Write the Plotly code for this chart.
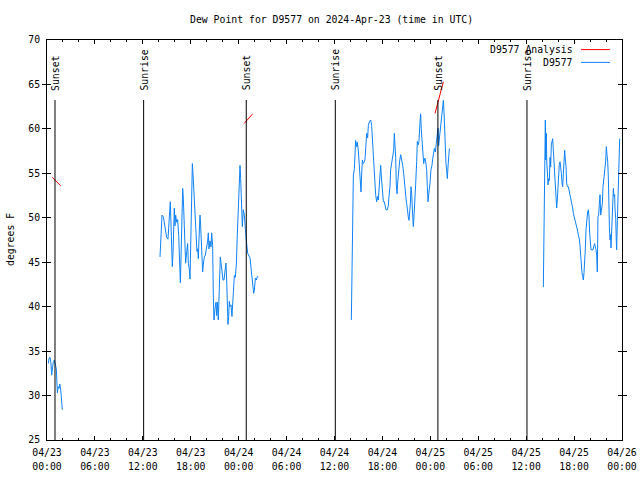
import pandas as pd
import plotly.graph_objects as go

BASE = pd.Timestamp("2024-04-23 00:00")

# ---- D9577 observed dew point (hours since 04/23 00:00 UTC, deg F) ----
seg1_hours = [0.17, 0.25, 0.38, 0.50, 0.58, 0.66, 0.79, 0.92, 1.04, 1.17, 1.30, 1.40, 1.50, 1.60, 1.72, 1.92]
seg1_vals = [33.6, 34.2, 34.3, 33.6, 32.3, 32.9, 33.8, 34.0, 33.6, 33.0, 30.3, 31.0, 30.8, 31.3, 30.6, 28.4]

seg2_hours = [14.15, 14.23, 14.32, 14.40, 14.57, 14.69, 14.82, 14.98, 15.15, 15.24,
              15.32, 15.44, 15.53, 15.61, 15.69, 15.78, 15.86, 15.94, 16.03, 16.11,
              16.24, 16.36, 16.49, 16.57, 16.70, 16.78, 16.86, 16.95, 16.99, 17.07,
              17.15, 17.28, 17.36, 17.49, 17.61, 17.70, 17.82, 17.91, 17.99, 18.07,
              18.16, 18.20, 18.28, 18.37, 18.45, 18.53, 18.66, 18.78, 18.87, 18.95,
              19.03, 19.16, 19.24, 19.32, 19.41, 19.49, 19.58, 19.70, 19.83, 19.99,
              20.12, 20.20, 20.28, 20.41, 20.54, 20.62, 20.74, 20.83, 20.91, 21.04,
              21.16, 21.24, 21.33, 21.45, 21.54, 21.62, 21.70, 21.79, 21.91, 22.04,
              22.16, 22.29, 22.41, 22.50, 22.58, 22.66, 22.75, 22.83, 22.91, 23.04,
              23.16, 23.25, 23.33, 23.46, 23.58, 23.71, 23.83, 23.96, 24.08, 24.17,
              24.25, 24.38, 24.46, 24.58, 24.71, 24.83, 24.92, 25.00, 25.13, 25.25,
              25.42, 25.59, 25.75, 25.88, 25.96, 26.09, 26.21, 26.34, 26.46]
seg2_vals = [45.6, 46.7, 49.0, 50.3, 50.1, 49.3, 48.5, 47.8, 47.6, 48.5,
             50.1, 51.8, 49.9, 46.4, 44.5, 46.0, 49.1, 51.1, 49.1, 50.3,
             49.5, 49.8, 48.0, 45.2, 42.7, 45.5, 48.9, 50.9, 53.3, 52.2,
             50.1, 46.4, 44.9, 46.2, 47.1, 44.9, 44.2, 43.1, 47.1, 52.0,
             52.9, 56.1, 55.0, 53.1, 52.0, 51.3, 48.3, 46.2, 46.5, 45.4,
             47.6, 50.3, 49.1, 46.9, 45.4, 43.9, 44.8, 45.6, 45.8, 46.5,
             47.4, 48.3, 46.5, 47.4, 46.7, 48.3, 46.9, 41.0, 38.5, 39.8,
             40.5, 39.0, 40.5, 38.5, 40.5, 43.8, 45.6, 44.9, 43.9, 43.0,
             43.0, 44.4, 44.9, 43.0, 39.6, 38.0, 38.9, 40.6, 40.0, 40.2,
             38.9, 40.5, 42.2, 43.5, 43.3, 44.8, 48.1, 52.0, 54.4, 55.9,
             54.4, 51.3, 49.0, 50.9, 50.3, 48.8, 47.5, 47.1, 46.0, 45.8,
             45.5, 44.0, 42.2, 41.5, 41.8, 43.2, 43.0, 43.4, 43.3]

seg3_hours = [38.11, 38.15, 38.23, 38.36, 38.48, 38.65, 38.78, 38.86, 38.99, 39.07,
              39.15, 39.24, 39.32, 39.40, 39.49, 39.61, 39.74, 39.82, 39.90, 40.03,
              40.15, 40.24, 40.36, 40.53, 40.65, 40.74, 40.86, 40.95, 41.07, 41.15,
              41.28, 41.40, 41.49, 41.61, 41.70, 41.78, 41.87, 41.95, 42.03, 42.12,
              42.24, 42.32, 42.45, 42.62, 42.74, 42.82, 42.95, 43.03, 43.16, 43.28,
              43.41, 43.49, 43.58, 43.66, 43.74, 43.83, 43.91, 44.04, 44.16, 44.29,
              44.41, 44.54, 44.66, 44.74, 44.83, 44.95, 45.04, 45.12, 45.24, 45.33,
              45.41, 45.50, 45.58, 45.66, 45.75, 45.87, 45.95, 46.04, 46.16, 46.29,
              46.37, 46.50, 46.58, 46.71, 46.79, 46.87, 47.00, 47.08, 47.17, 47.25,
              47.33, 47.42, 47.54, 47.62, 47.71, 47.79, 47.87, 47.96, 48.08, 48.21,
              48.29, 48.42, 48.50, 48.63, 48.71, 48.79, 48.88, 48.96, 49.04, 49.13,
              49.21, 49.29, 49.42, 49.50, 49.63, 49.71, 49.79, 49.88, 49.96, 50.04,
              50.13, 50.21, 50.29, 50.38]
seg3_vals = [38.5, 42.4, 50.5, 54.8, 55.4, 58.7, 58.0, 58.5, 57.5, 56.5,
             54.5, 53.9, 52.9, 54.8, 56.5, 56.1, 56.3, 56.6, 57.6, 59.5,
             59.0, 60.4, 60.8, 61.0, 60.4, 58.7, 58.0, 56.1, 53.9, 52.6,
             51.8, 52.4, 52.0, 53.7, 55.0, 55.9, 54.6, 53.5, 52.4, 51.8,
             51.8, 51.4, 50.9, 50.9, 51.4, 52.4, 53.5, 55.4, 56.1, 57.1,
             57.6, 59.5, 58.5, 56.8, 53.7, 52.7, 53.9, 55.7, 56.4, 57.1,
             56.6, 55.9, 55.0, 53.9, 52.6, 52.2, 51.6, 50.5, 50.1, 49.7,
             50.5, 51.6, 53.5, 52.8, 51.0, 49.0, 50.1, 52.4, 53.7, 56.3,
             58.6, 58.2, 58.6, 60.8, 61.7, 59.9, 58.0, 56.9, 56.1, 56.5,
             56.7, 56.3, 55.4, 53.5, 51.8, 52.6, 53.0, 53.9, 55.4, 55.9,
             56.6, 57.6, 57.8, 57.4, 58.3, 58.9, 59.5, 60.1, 58.1, 59.0,
             59.1, 60.1, 61.4, 62.3, 63.2, 62.0, 59.1, 57.7, 56.1, 55.4,
             54.4, 55.7, 57.1, 57.8]

seg4_hours = [62.15, 62.19, 62.28, 62.36, 62.40, 62.44, 62.53, 62.57, 62.65, 62.74,
              62.82, 62.90, 62.99, 63.07, 63.15, 63.24, 63.32, 63.40, 63.49, 63.57,
              63.65, 63.74, 63.82, 63.90, 63.99, 64.07, 64.15, 64.24, 64.32, 64.41,
              64.49, 64.57, 64.66, 64.74, 64.82, 64.91, 64.99, 65.07, 65.16, 65.28,
              65.41, 65.49, 65.62, 65.70, 65.82, 65.91, 66.03, 66.12, 66.24, 66.33,
              66.45, 66.53, 66.66, 66.74, 66.83, 66.91, 66.99, 67.08, 67.16, 67.24,
              67.33, 67.41, 67.49, 67.58, 67.70, 67.79, 67.87, 67.95, 68.04, 68.12,
              68.25, 68.37, 68.50, 68.58, 68.66, 68.75, 68.83, 68.87, 68.91, 68.99,
              69.08, 69.16, 69.25, 69.33, 69.46, 69.54, 69.62, 69.71, 69.79, 69.87,
              69.96, 70.04, 70.12, 70.21, 70.29, 70.33, 70.42, 70.50, 70.58, 70.62,
              70.71, 70.75, 70.83, 70.92, 71.00, 71.08, 71.12, 71.21, 71.29, 71.33,
              71.42, 71.50, 71.54, 71.63, 71.71]
seg4_vals = [42.2, 46.9, 56.3, 56.0, 61.0, 56.5, 59.5, 56.5, 54.6, 53.7,
             54.4, 54.2, 56.8, 55.7, 58.2, 58.7, 58.9, 57.6, 55.9, 54.6,
             52.8, 52.4, 51.1, 52.0, 53.5, 55.2, 56.0, 56.3, 55.9, 55.0,
             53.9, 53.5, 55.0, 56.3, 57.6, 56.5, 55.8, 53.9, 53.5, 53.5,
             53.0, 52.6, 52.0, 51.6, 51.1, 50.5, 50.1, 49.7, 49.3, 48.9,
             48.5, 48.1, 47.6, 46.9, 45.4, 44.5, 43.8, 43.4, 43.0, 43.8,
             44.9, 46.5, 48.6, 50.1, 50.7, 50.9, 50.1, 48.3, 47.1, 46.4,
             46.4, 46.4, 46.9, 47.1, 46.7, 46.4, 45.8, 44.9, 43.9, 50.1,
             50.3, 51.5, 52.6, 50.3, 50.9, 51.6, 53.5, 54.1, 55.0, 55.6,
             56.5, 58.0, 57.1, 56.3, 54.6, 52.0, 49.0, 47.5, 48.1, 46.6,
             48.7, 50.9, 52.4, 53.3, 52.4, 52.6, 51.1, 49.9, 47.3, 46.4,
             49.7, 53.1, 55.6, 58.7, 58.9]

# ---- D9577 Analysis (red) ----
analysis_hours = [0.66, 1.72, None, 24.67, 25.76, None, 48.59, 49.63]
analysis_vals = [54.55, 53.6, None, 60.6, 61.7, None, 61.75, 65.3]

# ---- Sunrise / sunset markers ----
event_hours = [1.0, 12.1, 24.95, 36.1, 48.95, 60.1]
event_labels = ["Sunset", "Sunrise", "Sunset", "Sunrise", "Sunset", "Sunrise"]
event_line_top = 63.25
event_text_bottom = 64.1

# ---- Axis ticks ----
tick_hours = [0, 6, 12, 18, 24, 30, 36, 42, 48, 54, 60, 66, 72]
tick_dates = ["04/23", "04/23", "04/23", "04/23", "04/24", "04/24", "04/24",
              "04/24", "04/25", "04/25", "04/25", "04/25", "04/26"]
tick_times = ["00:00", "06:00", "12:00", "18:00", "00:00", "06:00", "12:00",
              "18:00", "00:00", "06:00", "12:00", "18:00", "00:00"]
y_range = [25, 70]

BLUE = "#0f82f5"
RED = "#ff0000"
FONT = "DejaVu Sans Mono"
FS = 9.8


def to_time(hours):
    return [None if h is None else BASE + pd.Timedelta(hours=h) for h in hours]


obs_hours = seg1_hours + [None] + seg2_hours + [None] + seg3_hours + [None] + seg4_hours
obs_vals = seg1_vals + [None] + seg2_vals + [None] + seg3_vals + [None] + seg4_vals
x_range = [BASE, BASE + pd.Timedelta(hours=72)]

fig = go.Figure()
fig.add_trace(go.Scatter(x=to_time(obs_hours), y=obs_vals, mode="lines",
                         line=dict(color=BLUE, width=1), connectgaps=False,
                         name="D9577", showlegend=False))
fig.add_trace(go.Scatter(x=to_time(analysis_hours), y=analysis_vals, mode="lines",
                         line=dict(color=RED, width=1), connectgaps=False,
                         name="D9577 Analysis", showlegend=False))
# empty carrier so the second (time-of-day) label row is drawn
fig.add_trace(go.Scatter(x=x_range, y=[None, None], xaxis="x2", mode="lines",
                         showlegend=False, hoverinfo="skip"))

for h, lab in zip(event_hours, event_labels):
    t = BASE + pd.Timedelta(hours=h)
    fig.add_shape(type="line", xref="x", yref="y", x0=t, x1=t,
                  y0=y_range[0], y1=event_line_top,
                  line=dict(color="black", width=1))
    fig.add_annotation(x=t, y=event_text_bottom, xref="x", yref="y",
                       text=lab, textangle=-90, showarrow=False,
                       xanchor="center", yanchor="bottom", xshift=1,
                       font=dict(family=FONT, size=FS, color="black"))

# custom gnuplot-style key (text then line sample)
key_items = [("D9577 Analysis", RED, 0.976), ("D9577", BLUE, 0.944)]
for txt, col, yy in key_items:
    fig.add_annotation(x=0.9185, y=yy, xref="paper", yref="paper", text=txt,
                       showarrow=False, xanchor="right", yanchor="middle",
                       font=dict(family=FONT, size=FS, color="black"))
    fig.add_shape(type="line", xref="paper", yref="paper", x0=0.9287, x1=0.9791,
                  y0=yy, y1=yy, line=dict(color=col, width=1))

# title and y-axis title as positioned texts
fig.add_annotation(x=0.495, y=(440 - 19) / 400, xref="paper", yref="paper",
                   text="Dew Point for D9577 on 2024-Apr-23 (time in UTC)",
                   showarrow=False, xanchor="center", yanchor="middle",
                   font=dict(family=FONT, size=FS, color="black"))
fig.add_annotation(x=(10 - 47) / 575, y=0.5, xref="paper", yref="paper",
                   text="degrees F", textangle=-90, showarrow=False,
                   xanchor="center", yanchor="middle",
                   font=dict(family=FONT, size=FS, color="black"))

fig.update_layout(
    width=640, height=480,
    margin=dict(l=47, r=18, t=40, b=40, autoexpand=False),
    paper_bgcolor="white", plot_bgcolor="white",
    font=dict(family=FONT, size=FS, color="black"),
    showlegend=False,
    xaxis=dict(
        type="date", automargin=False, range=x_range,
        tickmode="array", tickvals=to_time(tick_hours), ticktext=tick_dates,
        ticks="inside", ticklen=4, tickcolor="black", tickwidth=1,
        ticklabelstandoff=3, ticklabeloverflow="allow",
        minor=dict(dtick=2 * 3600 * 1000, tick0=BASE, ticks="inside", ticklen=2,
                   tickcolor="black", showgrid=False),
        showline=True, linecolor="black", linewidth=1, mirror="allticks",
        showgrid=False, zeroline=False,
        tickfont=dict(family=FONT, size=FS, color="black"),
    ),
    xaxis2=dict(
        type="date", automargin=False, range=x_range, overlaying="x",
        anchor="y", side="bottom",
        tickmode="array", tickvals=to_time(tick_hours), ticktext=tick_times,
        ticks="", ticklabelstandoff=19, ticklabeloverflow="allow",
        showline=False, showgrid=False, zeroline=False,
        tickfont=dict(family=FONT, size=FS, color="black"),
    ),
    yaxis=dict(
        automargin=False, range=y_range, dtick=5, tick0=25,
        ticks="inside", ticklen=4, tickcolor="black", tickwidth=1,
        ticklabelstandoff=4,
        showline=True, linecolor="black", linewidth=1, mirror="allticks",
        showgrid=False, zeroline=False,
        tickfont=dict(family=FONT, size=FS, color="black"),
    ),
)

# remove default page margin so the 640x480 figure fills the window
fig.write_html("out.html", config={"displayModeBar": False},
               post_script="document.body.style.margin='0';")
